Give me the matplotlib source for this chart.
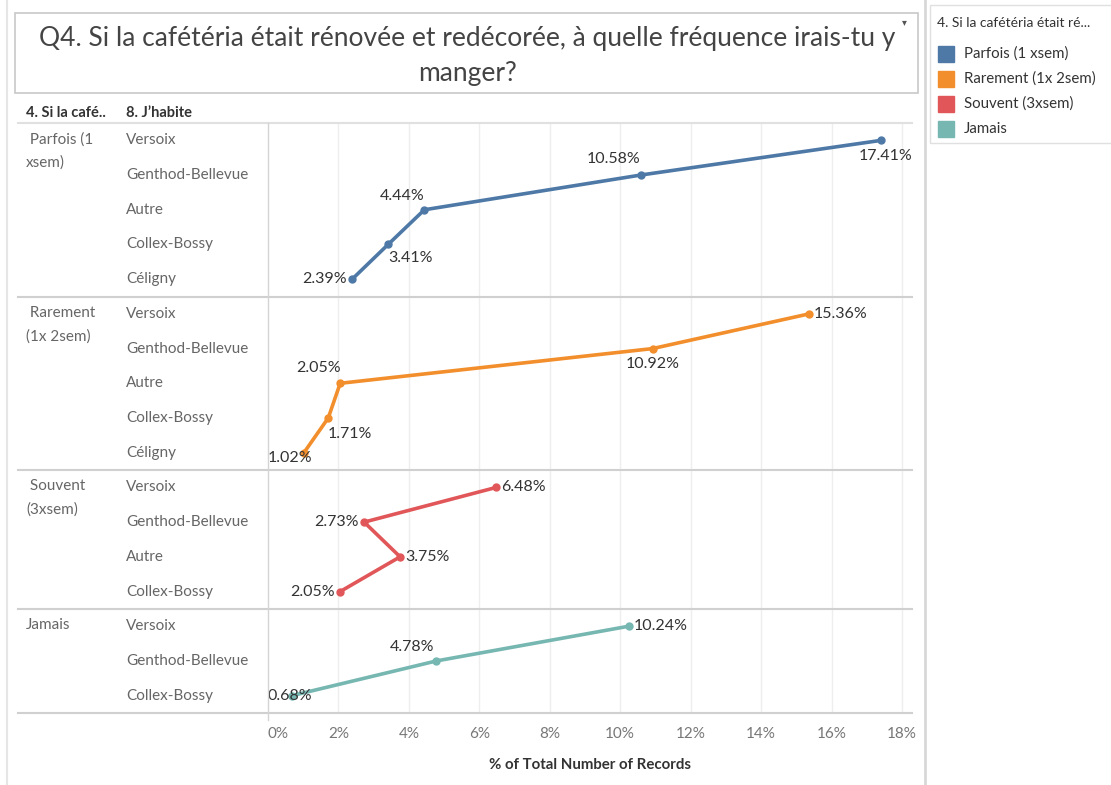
import matplotlib.pyplot as plt
import matplotlib.transforms as mtrans
from matplotlib.lines import Line2D
from matplotlib.patches import Rectangle

plt.rcParams['font.family'] = ['Lato', 'DejaVu Sans']

# data
groups = ["Parfois (1 xsem)", "Rarement (1x 2sem)", "Souvent (3xsem)", "Jamais"]
group_labels = [" Parfois (1\nxsem)", " Rarement\n(1x 2sem)", " Souvent\n(3xsem)", "Jamais"]
parfois_places = ["Versoix", "Genthod-Bellevue", "Autre", "Collex-Bossy", "Céligny"]
parfois_values = [17.41, 10.58, 4.44, 3.41, 2.39]
rarement_places = ["Versoix", "Genthod-Bellevue", "Autre", "Collex-Bossy", "Céligny"]
rarement_values = [15.36, 10.92, 2.05, 1.71, 1.02]
souvent_places = ["Versoix", "Genthod-Bellevue", "Autre", "Collex-Bossy"]
souvent_values = [6.48, 2.73, 3.75, 2.05]
jamais_places = ["Versoix", "Genthod-Bellevue", "Collex-Bossy"]
jamais_values = [10.24, 4.78, 0.68]
x_ticks = [0, 2, 4, 6, 8, 10, 12, 14, 16, 18]

colors = ["#4e79a7", "#f28e2b", "#e15759", "#76b7b2"]
# label placement (dx, dy in pixels, ha)
label_pos = [
    [(4, -16, "center"), (-27, 16, "center"), (-22, 14, "center"), (22, -14, "center"), (-5, 0, "right")],
    [(5, 0, "left"), (0, -15, "center"), (-22, 15, "center"), (22, -16, "center"), (-14, -5, "center")],
    [(5, 0, "left"), (-5, 0, "right"), (5, 0, "left"), (-5, 0, "right")],
    [(5, 0, "left"), (-24, 14, "center"), (-2, 0, "center")],
]

places = [parfois_places, rarement_places, souvent_places, jamais_places]
values = [parfois_values, rarement_values, souvent_values, jamais_values]

W, H = 1111, 785
fig = plt.figure(figsize=(W / 100, H / 100), dpi=100)
fig.patch.set_facecolor("white")

def fx(px):
    return px / W

def fy(py):
    return 1 - py / H

ax_l, ax_r, ax_t, ax_b = 268, 912, 123, 713
ax = fig.add_axes([fx(ax_l), fy(ax_b), fx(ax_r - ax_l), (ax_b - ax_t) / H])
n_rows = sum(len(p) for p in places)
ax.set_xlim(0, (ax_r - ax_l) / 35.22)
ax.set_ylim(n_rows, 0)
for s in ax.spines.values():
    s.set_visible(False)
ax.set_yticks([])
ax.set_xticks(x_ticks)
ax.set_xticklabels([f"{t}%" for t in x_ticks], color="#777777", fontsize=11)
ax.get_xticklabels()[0].set_ha("left")
ax.tick_params(axis="x", length=0, pad=10)
for t in x_ticks[1:]:
    ax.axvline(t, color="#eeeeee", lw=1, zorder=0)

blend = mtrans.blended_transform_factory(fig.transFigure, ax.transData)
grey = "#d0d0d0"

start = 0
for g, (lab, pl, vals, col, lp) in enumerate(zip(group_labels, places, values, colors, label_pos)):
    ys = [start + i + 0.5 for i in range(len(pl))]
    ax.plot(vals, ys, color=col, lw=2.6, marker="o", ms=5, solid_capstyle="round", zorder=3)
    for v, y, (dx, dy, ha) in zip(vals, ys, lp):
        ax.annotate(f"{v:.2f}%", (v, y), xytext=(dx, dy), textcoords="offset pixels",
                    ha=ha, va="center", fontsize=11.5, color="#333333", zorder=4)
    for p, y in zip(pl, ys):
        ax.text(fx(126), y, p, transform=blend, ha="left", va="center", fontsize=11, color="#666666")
    ax.text(fx(26), start + 0.27, lab, transform=blend, ha="left", va="top", fontsize=11,
            color="#666666", linespacing=1.8)
    start += len(pl)
    if g < len(places) - 1:
        ax.add_line(Line2D([fx(18), fx(912)], [start, start], transform=blend, color=grey,
                           lw=1.5, clip_on=False))

# header and bottom lines
fig.add_artist(Line2D([fx(18), fx(912)], [fy(123), fy(123)], color="#e0e0e0", lw=1.5))
fig.add_artist(Line2D([fx(18), fx(912)], [fy(713), fy(713)], color=grey, lw=1.5))
fig.add_artist(Line2D([fx(268), fx(268)], [fy(123), fy(720)], color="#d4d4d4", lw=1))
fig.text(fx(26), fy(113), "4. Si la café..", fontsize=10.5, fontweight="bold", color="#333333", va="center")
fig.text(fx(126), fy(113), "8. J’habite", fontsize=10.5, fontweight="bold", color="#333333", va="center")

ax.set_xlabel("% of Total Number of Records", fontsize=10.8, fontweight="bold", color="#333333", labelpad=12)

# title box
fig.add_artist(Rectangle((fx(15), fy(93)), fx(903), (93 - 13) / H, fill=False, ec="#c8c8c8", lw=1.2))
fig.text(fx(467), fy(56), "Q4. Si la cafétéria était rénovée et redécorée, à quelle fréquence irais-tu y\nmanger?",
         ha="center", va="center", fontsize=19, color="#444444", linespacing=1.5)
fig.text(fx(904), fy(22), "▾", ha="center", va="center", fontsize=7, color="#555555",
         family=["DejaVu Sans"])

# outer frame lines
fig.add_artist(Line2D([fx(7), fx(7)], [0, 1], color="#e6e6e6", lw=1.5))
fig.add_artist(Line2D([fx(925), fx(925)], [0, 1], color="#d8d8d8", lw=2))

# legend
fig.add_artist(Rectangle((fx(930), fy(143)), fx(185), (143 - 5) / H, fill=False, ec="#e0e0e0", lw=1))
fig.text(fx(937), fy(23), "4. Si la cafétéria était ré...", fontsize=10, color="#333333", va="center")
for i, (name, col) in enumerate(zip(groups, colors)):
    y = 54 + 25 * i
    fig.add_artist(Rectangle((fx(938), fy(y + 8)), fx(16), 16 / H, color=col))
    fig.text(fx(964), fy(y), name, fontsize=10.8, color="#333333", va="center")

fig.savefig("out.png", dpi=100)
